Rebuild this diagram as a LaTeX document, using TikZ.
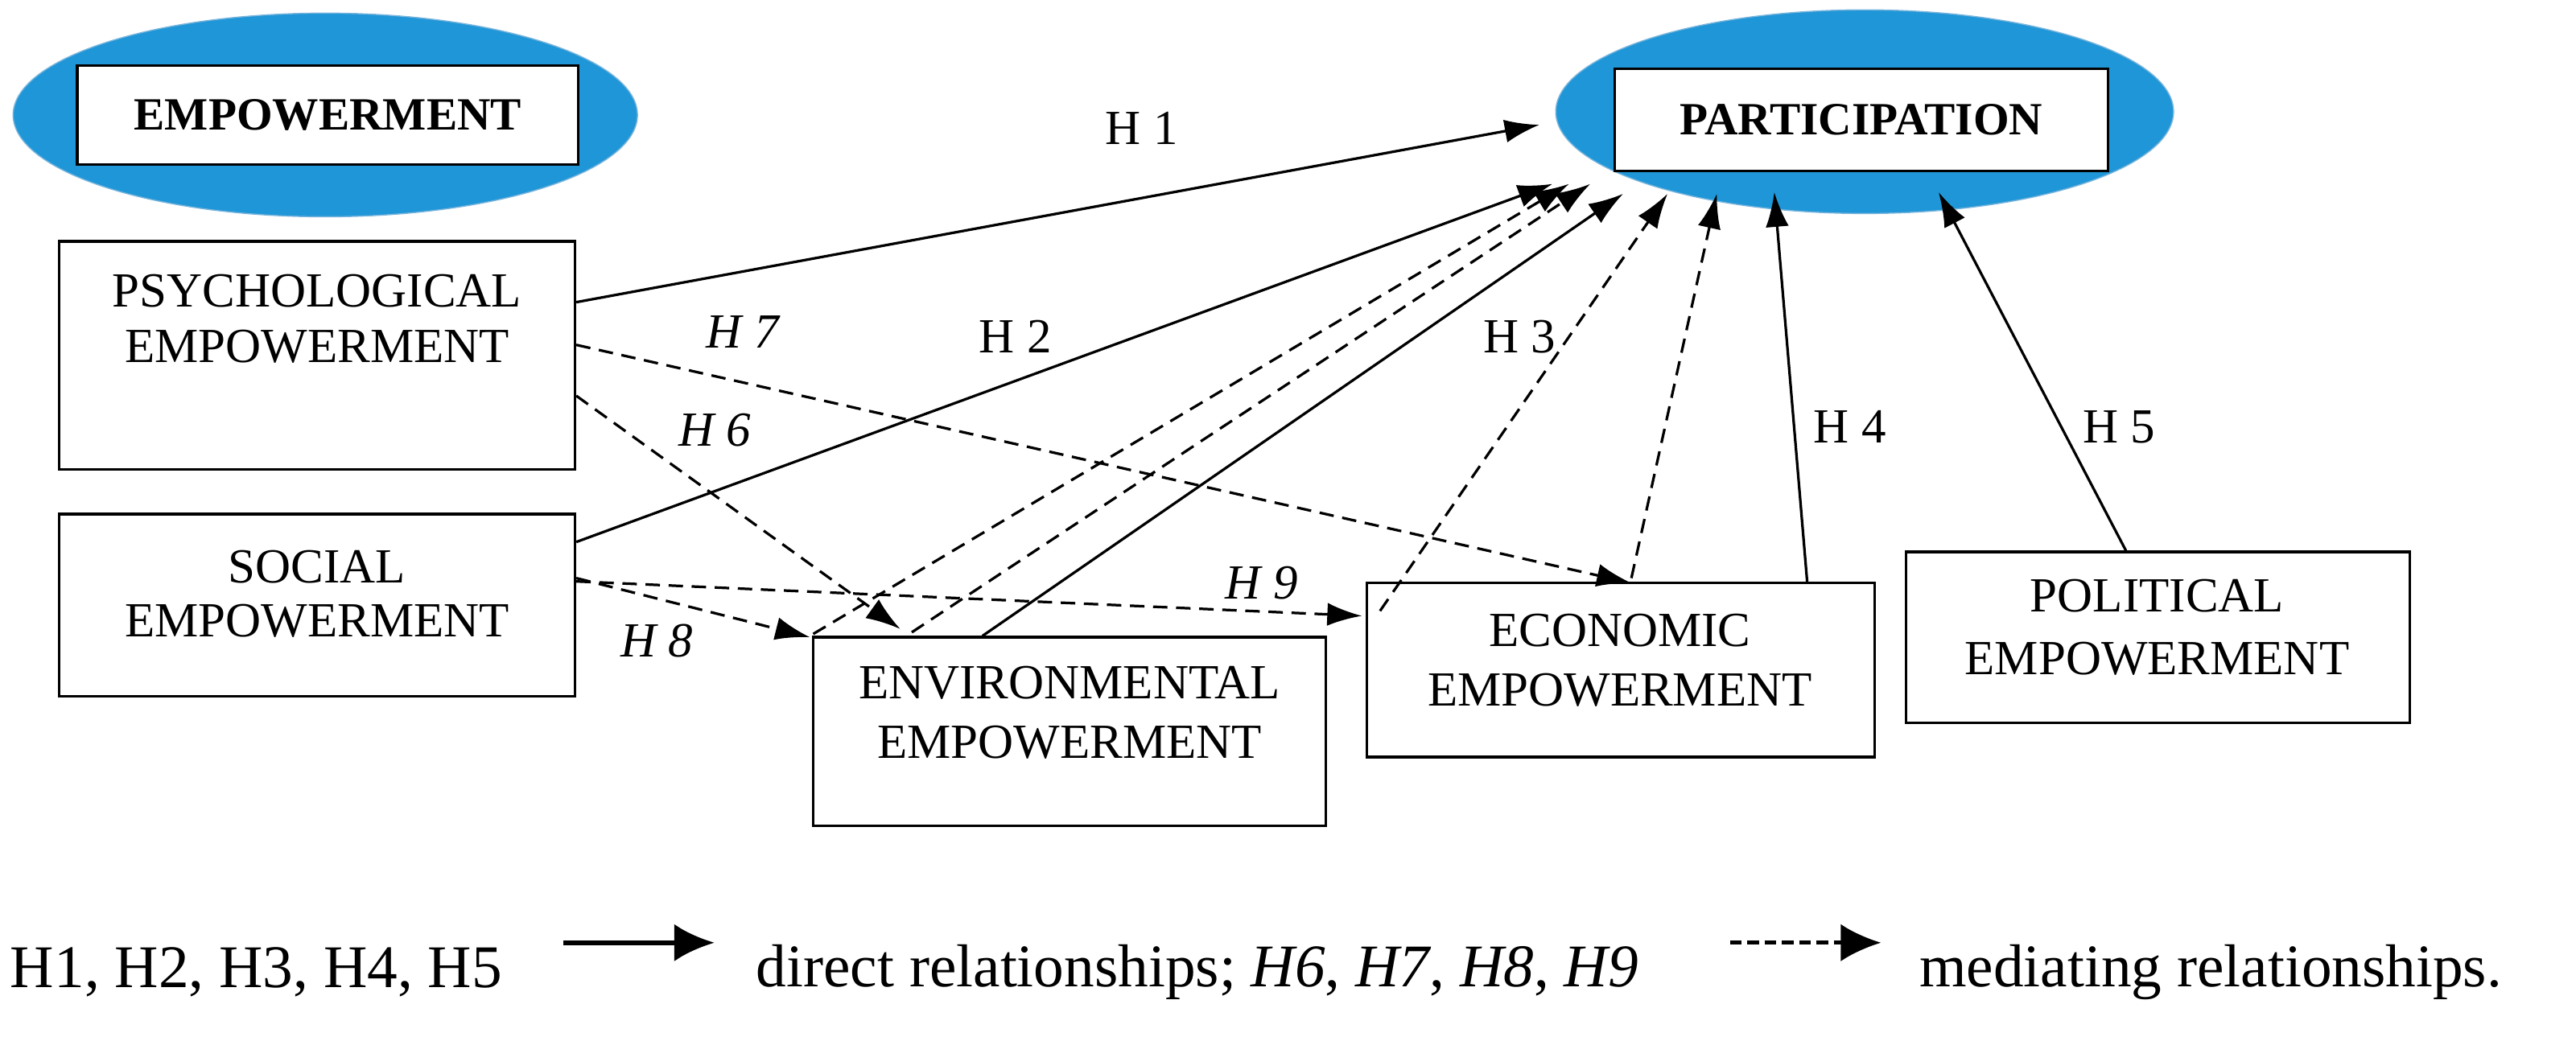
\documentclass[tikz,border=0pt]{standalone}
\usepackage{fontspec}
\setmainfont{Liberation Serif}
\usetikzlibrary{arrows.meta,shapes.geometric}
\begin{document}
\begin{tikzpicture}[x=0.02cm,y=-0.02cm,
  box/.style={draw,line width=0.9pt,fill=white,inner sep=0pt,align=center,font=\fontsize{17}{21}\selectfont},
  ell/.style={ellipse,fill={rgb,255:red,30;green,150;blue,215},draw={rgb,255:red,120;green,180;blue,220},inner sep=0pt},
  sol/.style={line width=0.9pt,-{Latex[length=12pt,width=8pt]}},
  das/.style={line width=0.9pt,dash pattern=on 5pt off 3pt,-{Latex[length=12pt,width=8pt]}},
  lab/.style={font=\fontsize{17}{20}\selectfont},
  ilab/.style={font=\fontsize{17}{20}\selectfont\itshape}]
\useasboundingbox (0,0) rectangle (1568,631);
\node[ell,minimum width={380*0.02cm},minimum height={124*0.02cm}] (e1) at (198,70) {};
\node[box,minimum width={305*0.02cm},minimum height={60*0.02cm},font=\fontsize{16}{18}\selectfont\bfseries] (eb) at (199.5,70) {EMPOWERMENT};
\node[ell,minimum width={376*0.02cm},minimum height={124*0.02cm}] (p1) at (1135,68) {};
\node[box,minimum width={300*0.02cm},minimum height={62*0.02cm},font=\fontsize{16}{18}\selectfont\bfseries] (pb) at (1133,73) {PARTICIPATION};
\node[box,minimum width={314*0.02cm},minimum height={139*0.02cm}] (psy) at (193,216.5) {};
\node[lab] at (193,177) {PSYCHOLOGICAL};
\node[lab] at (193,211) {EMPOWERMENT};
\node[box,minimum width={314*0.02cm},minimum height={111*0.02cm}] (soc) at (193,368.5) {};
\node[lab] at (193,345) {SOCIAL};
\node[lab] at (193,378) {EMPOWERMENT};
\node[box,minimum width={312*0.02cm},minimum height={115*0.02cm}] (env) at (651,445.5) {};
\node[lab] at (651,416) {ENVIRONMENTAL};
\node[lab] at (651,452) {EMPOWERMENT};
\node[box,minimum width={309*0.02cm},minimum height={106*0.02cm}] (eco) at (986.5,408) {};
\node[lab] at (986,384) {ECONOMIC};
\node[lab] at (986,420) {EMPOWERMENT};
\node[box,minimum width={307*0.02cm},minimum height={104*0.02cm}] (pol) at (1313.5,388) {};
\node[lab] at (1313,363) {POLITICAL};
\node[lab] at (1313,401) {EMPOWERMENT};
% direct
\draw[sol] (psy.east |- 0,184) -- (937,76);
\draw[sol] (soc.east |- 0,330) -- (945,112);
\draw[sol] (env.north -| 598,0) -- (988,118);
\draw[sol] (eco.north -| 1100,0) -- (1080,117);
\draw[sol] (pol.north -| 1294,0) -- (1180,117);
% mediating
\draw[das] (psy.east |- 0,241) -- (548,383);
\draw[das] (psy.east |- 0,210) -- (993,355);
\draw[das] (soc.east |- 0,352) -- (493,388);
\draw[das] (soc.east |- 0,354) -- (829,375);
\draw[das] (495,386) -- (955,112);
\draw[das] (555,385) -- (968,112);
\draw[das] (840,372) -- (1015,118);
\draw[das] (993,352) -- (1045,118);
\node[lab] at (695,78) {H 1};
\node[lab] at (618,205) {H 2};
\node[lab] at (925,205) {H 3};
\node[lab] at (1126,260) {H 4};
\node[lab] at (1290,260) {H 5};
\node[ilab] at (435,262) {H 6};
\node[ilab] at (452,202) {H 7};
\node[ilab] at (400,390) {H 8};
\node[ilab] at (768,355) {H 9};
% legend
\node[anchor=west,font=\fontsize{21}{24}\selectfont,inner sep=0pt] (l1) at (6,592) {H1, H2, H3, H4, H5};
\coordinate (a1) at (343,574); \coordinate (a2) at (435,574);
\draw[line width=1.8pt,-{Latex[length=14pt,width=13pt]}] (a1) -- (a2);
\node[anchor=west,font=\fontsize{21}{24}\selectfont,inner sep=0pt] (l2) at (460,592) {direct relationships; \textit{H6}, \textit{H7}, \textit{H8}, \textit{H9}};
\coordinate (b1) at (1053,574); \coordinate (b2) at (1145,574);
\draw[line width=1.3pt,dash pattern=on 4pt off 2pt,-{Latex[length=14pt,width=13pt]}] (b1) -- (b2);
\node[anchor=west,font=\fontsize{21}{24}\selectfont,inner sep=0pt] (l3) at (1168,592) {mediating relationships.};
\end{tikzpicture}
\end{document}
